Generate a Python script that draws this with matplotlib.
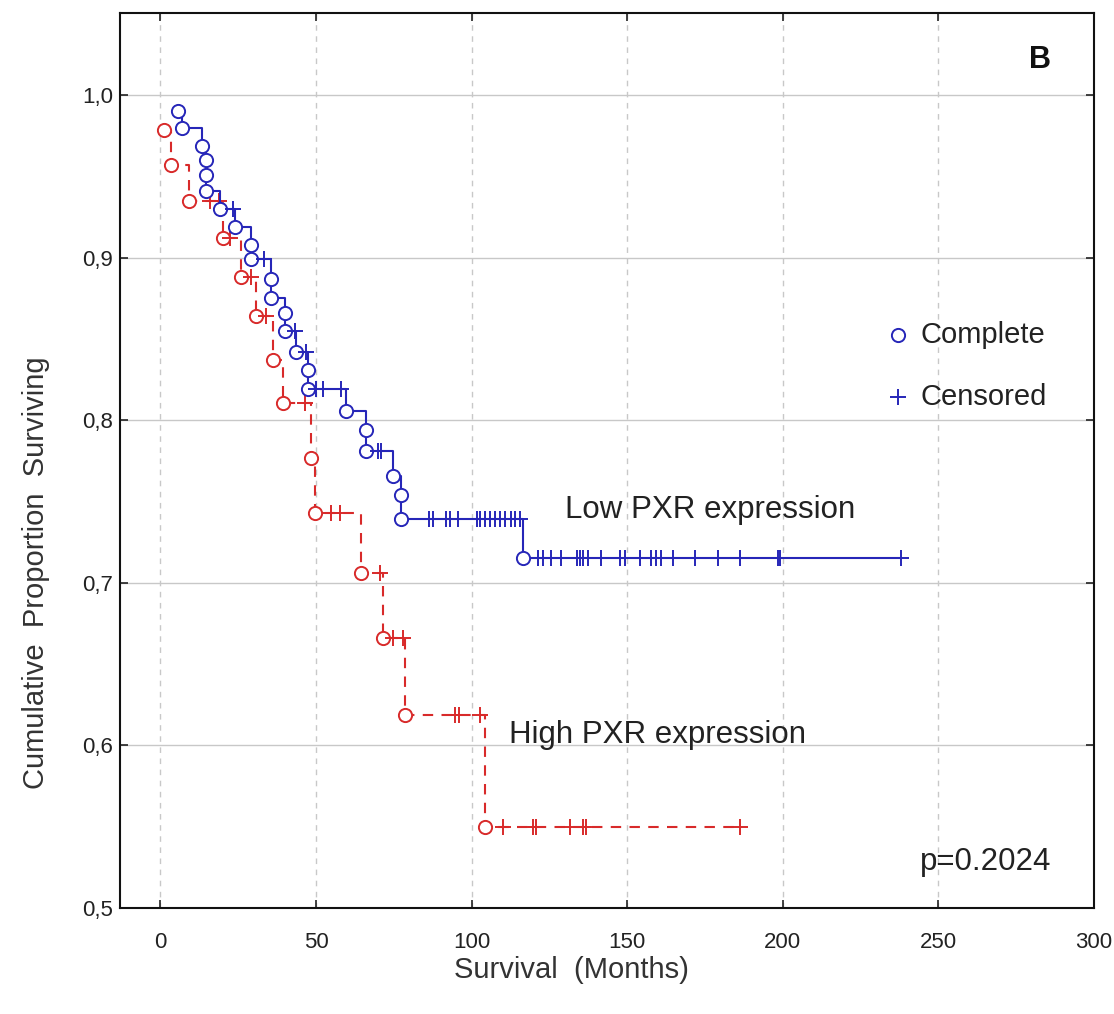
import numpy as np
import matplotlib
matplotlib.use("Agg")
import matplotlib.pyplot as plt
from matplotlib.lines import Line2D

plt.rcParams['font.family'] = ['Liberation Sans', 'DejaVu Sans']

# ---------------- data ----------------
low_event_t = [5.5, 7.0, 13.5, 14.5, 14.5, 14.5, 19.0, 23.8, 29.0, 29.0, 35.6, 35.6,
               39.9, 39.9, 43.6, 47.4, 47.4, 59.5, 66.1, 66.1, 74.7, 77.4, 77.4, 116.5]
low_event_s = [0.990, 0.980, 0.969, 0.960, 0.951, 0.941, 0.930, 0.919, 0.908, 0.899,
               0.887, 0.875, 0.866, 0.855, 0.842, 0.831, 0.819, 0.806, 0.794, 0.781,
               0.766, 0.754, 0.739, 0.715]
low_cens_t = [23.2, 33.4, 43.1, 46.8, 50.0, 52.2, 58.1, 70.0, 71.0,
              86.3, 87.6, 91.9, 93.0, 95.7, 101.6, 102.6, 104.3, 105.9, 107.6, 109.0,
              110.8, 112.8, 113.8, 115.4,
              121.3, 122.9, 125.6, 128.8, 133.7, 134.7, 135.8, 137.4, 141.7, 147.6,
              149.2, 154.0, 157.8, 159.4, 161.0, 164.7, 171.7, 179.2, 186.2, 198.5,
              199.0, 238.0]

high_event_t = [1.3, 3.4, 9.3, 20.0, 25.9, 30.8, 36.1, 39.3, 48.5, 49.8, 64.5, 71.5,
                78.5, 104.2]
high_event_s = [0.9785, 0.957, 0.935, 0.912, 0.888, 0.864, 0.837, 0.8105, 0.777,
                0.743, 0.706, 0.666, 0.619, 0.550]
high_cens_t = [15.8, 18.9, 22.2, 29.2, 34.0, 46.5, 54.9, 57.6, 70.5, 74.7, 77.9,
               94.5, 96.0, 102.6, 110.1, 119.7, 120.8, 131.5, 135.8, 136.9, 186.2]

x_ticks = [0, 50, 100, 150, 200, 250, 300]
y_ticks = [0.5, 0.6, 0.7, 0.8, 0.9, 1.0]

BLUE = '#2626b8'
RED = '#d82a2a'


def step_path(ev_t, ev_s, end_t):
    xs, ys = [ev_t[0]], [ev_s[0]]
    for i in range(1, len(ev_t)):
        xs += [ev_t[i], ev_t[i]]
        ys += [ev_s[i - 1], ev_s[i]]
    xs.append(end_t)
    ys.append(ev_s[-1])
    return xs, ys


def level_at(ev_t, ev_s, t):
    val = ev_s[0]
    for et, es in zip(ev_t, ev_s):
        if et <= t:
            val = es
    return val


fig = plt.figure(figsize=(11.14, 10.14), dpi=100)
ax = fig.add_axes([120 / 1114, 1 - 908 / 1014, 974 / 1114, 895 / 1014])

# grid
for yt in y_ticks:
    ax.axhline(yt, color='#c8c8c8', lw=1.0, zorder=0)
for xt in x_ticks:
    ax.axvline(xt, color='#c8c8c8', lw=1.0, ls=(0, (4, 4)), zorder=0)

# High PXR (red dashed)
hx, hy = step_path(high_event_t, high_event_s, max(high_cens_t))
ax.plot(hx, hy, color=RED, lw=1.5, ls=(0, (5, 4)), zorder=2)
ax.plot(high_event_t, high_event_s, 'o', ms=9.5, mfc='white', mec=RED, mew=1.4, zorder=3)
ax.plot(high_cens_t, [level_at(high_event_t, high_event_s, t) for t in high_cens_t],
        '+', ms=12, mec=RED, mew=1.4, zorder=3)

# Low PXR (blue solid)
lx, ly = step_path(low_event_t, low_event_s, max(low_cens_t))
ax.plot(lx, ly, color=BLUE, lw=1.5, zorder=4)
ax.plot(low_event_t, low_event_s, 'o', ms=9.5, mfc='white', mec=BLUE, mew=1.4, zorder=5)
ax.plot(low_cens_t, [level_at(low_event_t, low_event_s, t) for t in low_cens_t],
        '+', ms=12, mec=BLUE, mew=1.4, zorder=5)

ax.set_xlim(-13, 300)
ax.set_ylim(0.5, 1.0505)
ax.set_xticks(x_ticks)
ax.set_yticks(y_ticks)
ax.set_xticklabels([str(v) for v in x_ticks])
ax.set_yticklabels([f"{v:.1f}".replace('.', ',') for v in y_ticks])
ax.tick_params(direction='in', top=True, right=True, length=6, width=1.2,
               labelsize=16, colors='#222222')
ax.tick_params(axis='x', pad=17)
ax.tick_params(axis='y', pad=5)
for sp in ax.spines.values():
    sp.set_linewidth(1.5)
    sp.set_color('#111111')

ax.set_xlabel("Survival  (Months)", fontsize=21, color='#333333')
ax.xaxis.label.set_va('center')
ax.xaxis.set_label_coords((571.5 - 120) / 974, (908 - 970) / 895)
ax.set_ylabel("Cumulative  Proportion  Surviving", fontsize=21, color='#333333')
ax.yaxis.label.set_va('center')
ax.yaxis.set_label_coords((36 - 120) / 974, (908 - 573) / 895)

ax.text(130, 0.745, "Low PXR expression", fontsize=22.5, color='#222222',
        ha='left', va='center')
ax.text(112, 0.6066, "High PXR expression", fontsize=22.5, color='#222222',
        ha='left', va='center')
ax.text(244, 0.5286, "p=0.2024", fontsize=22.5, color='#222222', ha='left', va='center')
ax.text(282.5, 1.0215, "B", fontsize=22, fontweight='bold', color='#111111',
        ha='center', va='center')

# legend-like key
ax.plot([237], [0.8525], 'o', ms=9.5, mfc='white', mec=BLUE, mew=1.4)
ax.text(244.4, 0.8525, "Complete", fontsize=21, color='#222222', ha='left', va='center')
ax.plot([237], [0.8144], '+', ms=12, mec=BLUE, mew=1.4)
ax.text(244.4, 0.8144, "Censored", fontsize=21, color='#222222', ha='left', va='center')

fig.savefig("out.png", dpi=100)
